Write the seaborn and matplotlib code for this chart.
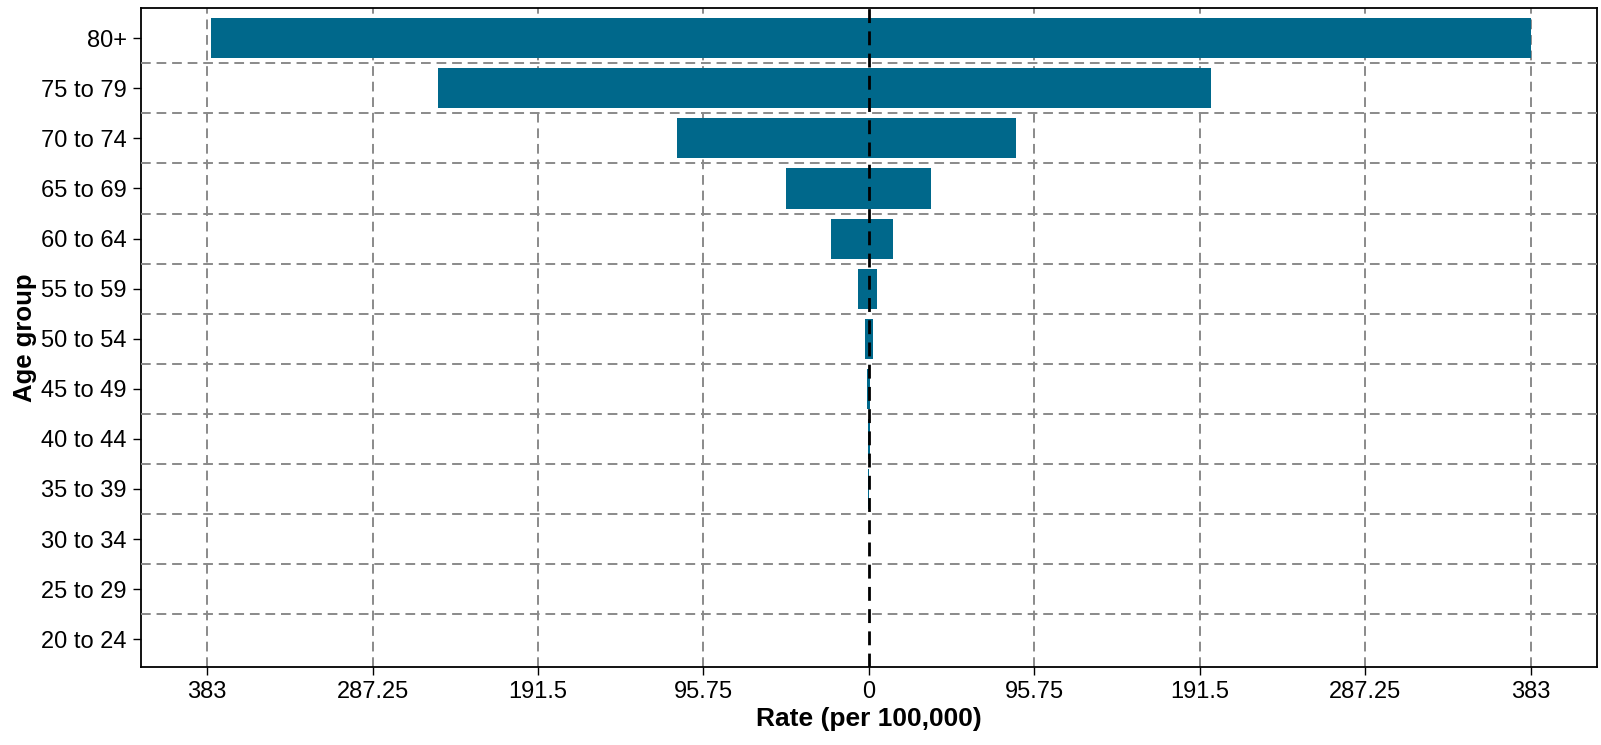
import numpy as np
import pandas as pd
import matplotlib
matplotlib.use("Agg")
import matplotlib.pyplot as plt
import seaborn as sns
from matplotlib.ticker import FixedLocator, FuncFormatter

# Age groups, top to bottom
age_groups = ["80+", "75 to 79", "70 to 74", "65 to 69", "60 to 64", "55 to 59",
              "50 to 54", "45 to 49", "40 to 44", "35 to 39", "30 to 34",
              "25 to 29", "20 to 24"]
# Rate per 100,000 for the two sides of the pyramid
left_rate = [381.0, 249.5, 111.0, 48.0, 22.0, 6.4, 2.3, 0.9, 0.5, 0.3, 0.2, 0.15, 0.1]
right_rate = [383.0, 198.0, 85.0, 35.8, 13.9, 4.4, 2.1, 0.8, 0.4, 0.25, 0.2, 0.15, 0.1]
x_ticks = [-383, -287.25, -191.5, -95.75, 0, 95.75, 191.5, 287.25, 383]

df = pd.DataFrame({
    "age": age_groups * 2,
    "rate": [-v for v in left_rate] + right_rate,
    "side": ["left"] * len(age_groups) + ["right"] * len(age_groups),
})

sns.set_style("white")
plt.rcParams["font.family"] = ["Liberation Sans", "DejaVu Sans"]
plt.rcParams["text.color"] = "black"
plt.rcParams["axes.labelcolor"] = "black"
plt.rcParams["xtick.color"] = "black"
plt.rcParams["ytick.color"] = "black"

fig = plt.figure(figsize=(16.01, 7.45), dpi=100)
ax = fig.add_axes([0.088, 0.105, 0.9095, 0.884])

bar_color = "#00688b"
for side in ["left", "right"]:
    sns.barplot(data=df[df["side"] == side], x="rate", y="age", order=age_groups,
                orient="h", color=bar_color, width=0.8, ax=ax, saturation=1,
                errorbar=None, linewidth=0, zorder=2)

lim = 383 * 1.1
ax.set_xlim(-lim, lim)
ax.set_ylim(len(age_groups) - 0.45, -0.6)

ax.xaxis.set_major_locator(FixedLocator(x_ticks))
ax.xaxis.set_major_formatter(FuncFormatter(lambda v, p: f"{abs(v):g}"))

# grid: vertical at major x ticks, horizontal between categories
for xt in x_ticks:
    if xt != 0:
        ax.axvline(xt, color="#8a8a8a", ls=(0, (5, 3)), lw=1.4, zorder=1)
for i in range(len(age_groups) - 1):
    ax.axhline(i + 0.5, color="#8a8a8a", ls=(0, (5, 3)), lw=1.4, zorder=3)
ax.axvline(0, color="black", ls=(0, (5, 3)), lw=2, zorder=4)

ax.set_xlabel("Rate (per 100,000)", fontsize=19, fontweight="bold", labelpad=3)
ax.set_ylabel("Age group", fontsize=18.5, fontweight="bold", labelpad=3)
ax.tick_params(axis="both", labelsize=17, length=6, width=1, direction="out",
               left=True, bottom=True, color="black", pad=4)
for s in ax.spines.values():
    s.set_color("black")
    s.set_linewidth(1.3)

fig.savefig("out.png", dpi=100)
plt.close(fig)
